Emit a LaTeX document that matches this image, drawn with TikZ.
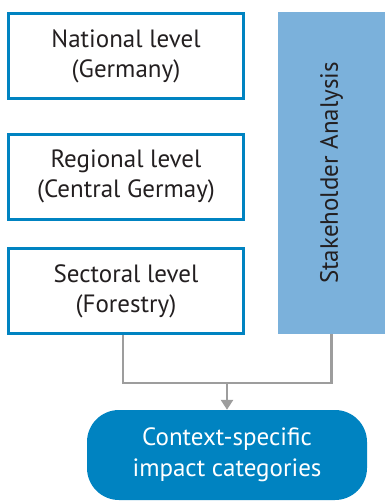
\documentclass[tikz,border=0pt]{standalone}
\usepackage{fontspec}
\setmainfont{PT Sans}
\usepackage{tikz}
\usetikzlibrary{arrows.meta, positioning}
\definecolor{levelcolor}{RGB}{0,131,193}
\definecolor{stakecolor}{RGB}{123,177,219}
\definecolor{linecolor}{RGB}{157,157,157}
\definecolor{textcolor}{RGB}{35,31,32}

\begin{document}
\begin{tikzpicture}[
    x=1pt, y=-1pt,
    box/.style={draw=levelcolor, line width=3pt, fill=white, minimum width=235pt, minimum height=85pt, inner sep=0pt, align=center, text=textcolor, font=\fontsize{25}{30}\selectfont},
    side/.style={fill=stakecolor, minimum width=107pt, minimum height=322pt, inner sep=0pt, text=textcolor, font=\fontsize{25}{30}\selectfont},
    result/.style={fill=levelcolor, rounded corners=32pt, minimum width=280pt, minimum height=90pt, inner sep=0pt, align=center, text=white, font=\fontsize{25}{31}\selectfont},
    line/.style={draw=linecolor, line width=2.8pt},
    arrow/.style={line, -{Triangle[length=10pt, width=12pt]}}
]
    \useasboundingbox (0,0) rectangle (385,501);

    \node[box] (nat) at (126,56) {National level\\(Germany)};
    \node[box] (reg) at (126,176.5) {Regional level\\(Central Germay)};
    \node[box] (sec) at (126,291) {Sectoral level\\(Forestry)};
    \node[side] (stake) at (331.5,173) {\rotatebox{90}{Stakeholder Analysis}};
    \node[result] (impact) at (227,455) {Context-specific\\impact categories};

    % Merge
    \coordinate (join) at (227,383);
    \draw[line] ([xshift=-3pt]sec.south) |- (join) -| (stake.south);
    \draw[arrow] (join) -- (impact.north);
\end{tikzpicture}
\end{document}
